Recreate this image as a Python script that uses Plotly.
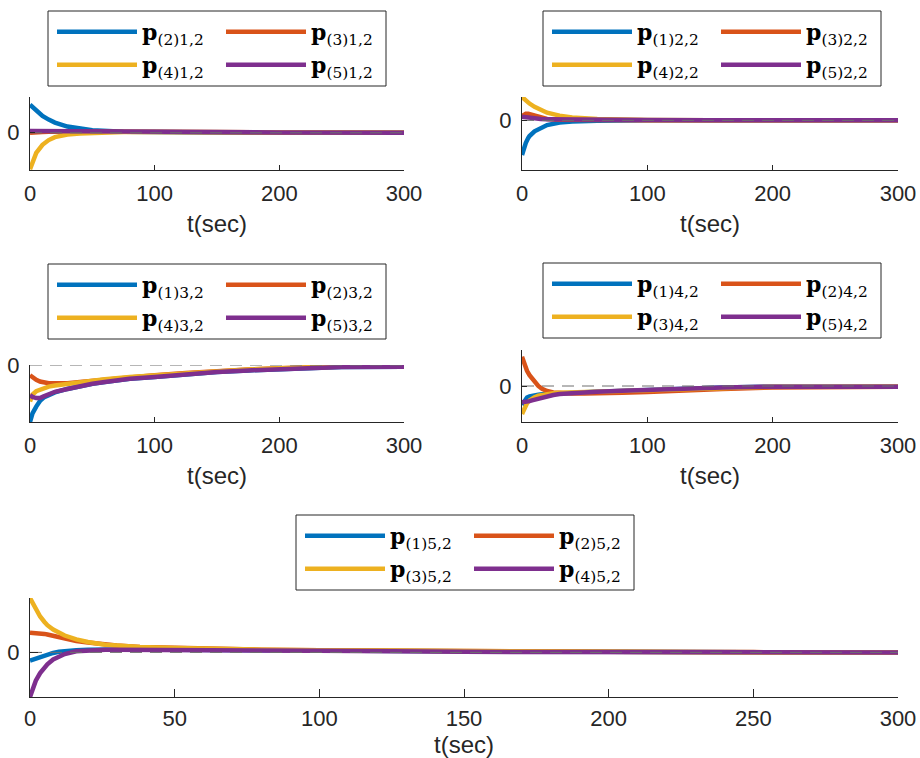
import plotly.graph_objects as go

W, H = 920, 758
COLORS = ['#0072BD', '#D95319', '#EDB120', '#7E2F8E']
AX = '#262626'

# ---------------- data ----------------
T1 = [0, 2, 5, 10, 15, 20, 30, 40, 50, 75, 100, 150, 200, 250, 300]
P1_names = ['<b>p</b><sub>(2)1,2</sub>', '<b>p</b><sub>(3)1,2</sub>',
            '<b>p</b><sub>(4)1,2</sub>', '<b>p</b><sub>(5)1,2</sub>']
P1_s1 = [0.77, 0.70, 0.60, 0.46, 0.36, 0.28, 0.17, 0.11, 0.07, 0.03, 0.015, 0.005, 0.0, 0.0, 0.0]
P1_s2 = [0.0, 0.01, 0.015, 0.02, 0.03, 0.035, 0.04, 0.04, 0.035, 0.03, 0.02, 0.012, 0.008, 0.004, 0.0]
P1_s3 = [-1.0, -0.8, -0.55, -0.33, -0.2, -0.12, -0.05, -0.02, 0.0, 0.02, 0.02, 0.015, 0.01, 0.005, 0.0]
P1_s4 = [0.05, 0.05, 0.045, 0.04, 0.04, 0.04, 0.04, 0.04, 0.035, 0.03, 0.03, 0.02, 0.01, 0.005, 0.0]

T2 = [0, 2, 3, 5, 6, 10, 15, 20, 30, 40, 60, 80, 100, 150, 200, 250, 300]
P2_names = ['<b>p</b><sub>(1)2,2</sub>', '<b>p</b><sub>(3)2,2</sub>',
            '<b>p</b><sub>(4)2,2</sub>', '<b>p</b><sub>(5)2,2</sub>']
P2_s1 = [-0.95, -0.7, -0.62, -0.48, -0.43, -0.3, -0.2, -0.13, -0.06, -0.03, -0.01, 0, 0, 0, 0, 0, 0]
P2_s2 = [0.12, 0.17, 0.18, 0.18, 0.17, 0.12, 0.07, 0.04, 0.02, 0.015, 0.01, 0.005, 0, 0, 0, 0, 0]
P2_s3 = [0.64, 0.57, 0.53, 0.49, 0.46, 0.37, 0.28, 0.21, 0.13, 0.08, 0.04, 0.02, 0.01, 0.0, 0, 0, 0]
P2_s4 = [0.1, 0.09, 0.08, 0.07, 0.06, 0.04, 0.035, 0.03, 0.025, 0.02, 0.02, 0.015, 0.01, 0.005, 0.0, 0.0, 0.0]

T3 = [0, 2, 5, 8, 11, 15, 20, 30, 40, 50, 60, 80, 100, 125, 150, 175, 200, 250, 300]
P3_names = ['<b>p</b><sub>(1)3,2</sub>', '<b>p</b><sub>(2)3,2</sub>',
            '<b>p</b><sub>(4)3,2</sub>', '<b>p</b><sub>(5)3,2</sub>']
P3_s1 = [-1.0, -0.85, -0.73, -0.63, -0.57, -0.52, -0.48, -0.42, -0.37, -0.33, -0.3, -0.24, -0.21, -0.16, -0.125, -0.095, -0.07, -0.035, -0.03]
P3_s2 = [-0.18, -0.22, -0.26, -0.29, -0.31, -0.32, -0.32, -0.32, -0.3, -0.28, -0.26, -0.21, -0.18, -0.14, -0.105, -0.08, -0.055, -0.025, -0.02]
P3_s3 = [-0.64, -0.52, -0.46, -0.43, -0.41, -0.38, -0.36, -0.33, -0.3, -0.27, -0.25, -0.21, -0.18, -0.14, -0.105, -0.08, -0.055, -0.02, 0.0]
P3_s4 = [-0.53, -0.56, -0.58, -0.58, -0.55, -0.51, -0.47, -0.42, -0.37, -0.33, -0.3, -0.24, -0.21, -0.16, -0.125, -0.095, -0.07, -0.035, -0.03]

T4 = [0, 2, 4, 6, 8, 10, 13, 16, 20, 25, 30, 40, 50, 60, 80, 100, 130, 160, 200, 250, 300]
P4_names = ['<b>p</b><sub>(1)4,2</sub>', '<b>p</b><sub>(2)4,2</sub>',
            '<b>p</b><sub>(3)4,2</sub>', '<b>p</b><sub>(5)4,2</sub>']
P4_s1 = [-0.53, -0.4, -0.32, -0.29, -0.27, -0.25, -0.24, -0.23, -0.22, -0.21, -0.2, -0.19, -0.175, -0.16, -0.13, -0.1, -0.07, -0.04, -0.02, -0.02, -0.02]
P4_s2 = [0.81, 0.6, 0.42, 0.3, 0.2, 0.11, 0.0, -0.08, -0.14, -0.18, -0.2, -0.21, -0.21, -0.21, -0.19, -0.17, -0.12, -0.08, -0.04, -0.02, -0.02]
P4_s3 = [-0.78, -0.6, -0.48, -0.4, -0.35, -0.31, -0.27, -0.25, -0.22, -0.2, -0.19, -0.18, -0.17, -0.16, -0.13, -0.1, -0.07, -0.04, -0.02, -0.02, -0.02]
P4_s4 = [-0.45, -0.45, -0.44, -0.42, -0.4, -0.38, -0.34, -0.31, -0.29, -0.25, -0.22, -0.19, -0.175, -0.16, -0.13, -0.1, -0.07, -0.04, -0.02, -0.02, -0.02]

T5 = [0, 1, 2, 3.5, 5, 6, 8, 10, 12, 16, 20, 26, 30, 38, 50, 60, 80, 100, 150, 200, 250, 300]
P5_names = ['<b>p</b><sub>(1)5,2</sub>', '<b>p</b><sub>(2)5,2</sub>',
            '<b>p</b><sub>(3)5,2</sub>', '<b>p</b><sub>(4)5,2</sub>']
P5_s1 = [-0.15, -0.13, -0.11, -0.08, -0.05, -0.035, -0.01, 0.01, 0.025, 0.04, 0.05, 0.06, 0.06, 0.06, 0.05, 0.045, 0.035, 0.03, 0.02, 0.01, 0.0, 0.0]
P5_s2 = [0.36, 0.36, 0.355, 0.35, 0.34, 0.33, 0.305, 0.28, 0.26, 0.21, 0.18, 0.14, 0.125, 0.1, 0.08, 0.07, 0.05, 0.04, 0.02, 0.01, 0.005, 0.0]
P5_s3 = [1.0, 0.89, 0.8, 0.66, 0.56, 0.5, 0.42, 0.36, 0.31, 0.24, 0.19, 0.14, 0.125, 0.1, 0.08, 0.065, 0.05, 0.04, 0.02, 0.01, 0.0, 0.0]
P5_s4 = [-0.82, -0.64, -0.52, -0.38, -0.28, -0.22, -0.13, -0.07, -0.03, 0.02, 0.04, 0.05, 0.05, 0.05, 0.05, 0.045, 0.035, 0.03, 0.01, 0.0, 0.0, 0.0]

ZERO_T = [0, 300]
ZERO_V = [0, 0]
XTICKS_SMALL = [0, 100, 200, 300]
XTICKS_WIDE = [0, 50, 100, 150, 200, 250, 300]

# ---------------- layout config (window pixels) ----------------
panels = [
    dict(t=T1, names=P1_names, s=[P1_s1, P1_s2, P1_s3, P1_s4], yr=[-1.02, 0.98],
         box=(30, 404, 97, 170), leg=(48, 11), xt=XTICKS_SMALL, tl=5, so=(4, 9)),
    dict(t=T2, names=P2_names, s=[P2_s1, P2_s2, P2_s3, P2_s4], yr=[-1.36, 0.64],
         box=(522, 898, 97, 170), leg=(543, 11), xt=XTICKS_SMALL, tl=5, so=(4, 9)),
    dict(t=T3, names=P3_names, s=[P3_s1, P3_s2, P3_s3, P3_s4], yr=[-1.0, 0.0],
         box=(30, 404, 365, 422), leg=(48, 264), xt=XTICKS_SMALL, tl=5, so=(4, 9)),
    dict(t=T4, names=P4_names, s=[P4_s1, P4_s2, P4_s3, P4_s4], yr=[-1.0, 1.0],
         box=(522, 898, 350, 422), leg=(543, 263), xt=XTICKS_SMALL, tl=5, so=(4, 9)),
    dict(t=T5, names=P5_names, s=[P5_s1, P5_s2, P5_s3, P5_s4], yr=[-0.82, 1.0],
         box=(30, 898, 598, 697), leg=(296, 515), xt=XTICKS_WIDE, tl=8, so=(2, 5)),
]

LEG_W, LEG_H = 338, 75
LEG_COL = [9, 178]
LEG_ROW = [21, 54]
LEG_XOFF = 5  # plotly internal offset from legend edge to symbol start


def px(x):
    return x / W


def py(y):
    return 1 - y / H


fig = go.Figure()
layout = dict(width=W, height=H, margin=dict(l=0, r=0, t=0, b=0, autoexpand=False),
              paper_bgcolor='white', plot_bgcolor='white', shapes=[],
              hovermode=False)

legend_count = 0
for i, P in enumerate(panels):
    xa = 'x' if i == 0 else f'x{i + 1}'
    ya = 'y' if i == 0 else f'y{i + 1}'
    l, r, top, bot = P['box']
    for j, (name, vals) in enumerate(zip(P['names'], P['s'])):
        legend_count += 1
        lname = 'legend' if legend_count == 1 else f'legend{legend_count}'
        fig.add_trace(go.Scatter(
            x=P['t'], y=vals, mode='lines', name=name,
            line=dict(color=COLORS[j], width=4.5),
            xaxis=xa, yaxis=ya, legend=lname))
        lx = P['leg'][0] + LEG_COL[j % 2] - LEG_XOFF
        ly = P['leg'][1] + LEG_ROW[j // 2]
        layout[lname] = dict(
            x=px(lx), y=py(ly), xanchor='left', yanchor='middle',
            bgcolor='rgba(0,0,0,0)', borderwidth=0, itemwidth=80,
            font=dict(family='DejaVu Serif', size=22, color='black'),
            itemclick=False, itemdoubleclick=False)
    fig.add_trace(go.Scatter(
        x=ZERO_T, y=ZERO_V, mode='lines', showlegend=False,
        line=dict(color='#6e6e6e', width=1, dash='12px,8px'),
        xaxis=xa, yaxis=ya, hoverinfo='skip'))

    xkey = 'xaxis' if i == 0 else f'xaxis{i + 1}'
    ykey = 'yaxis' if i == 0 else f'yaxis{i + 1}'
    layout[xkey] = dict(
        domain=[px(l), px(r)], range=[0, 300], anchor=ya, automargin=False,
        showline=True, linecolor=AX, linewidth=1, mirror=False,
        ticks='inside', ticklen=P['tl'], tickcolor=AX, tickwidth=1,
        tickvals=P['xt'], showgrid=False, zeroline=False,
        tickfont=dict(family='Liberation Sans', size=22, color=AX),
        ticklabelstandoff=P['so'][0], ticklabeloverflow='allow',
        title=dict(text='t(sec)', standoff=P['so'][1],
                   font=dict(family='Liberation Sans', size=24, color=AX)))
    layout[ykey] = dict(
        domain=[py(bot), py(top)], range=P['yr'], anchor=xa, automargin=False,
        showline=True, linecolor=AX, linewidth=1, mirror=False,
        ticks='inside', ticklen=P['tl'], tickcolor=AX, tickwidth=1,
        tickvals=[0], ticktext=['0'], showgrid=False, zeroline=False,
        ticklabelstandoff=5, ticklabeloverflow='allow',
        tickfont=dict(family='Liberation Sans', size=22, color=AX))

    bx, by = P['leg']
    layout['shapes'].append(dict(
        type='rect', xref='paper', yref='paper',
        x0=px(bx), x1=px(bx + LEG_W), y0=py(by + LEG_H), y1=py(by),
        line=dict(color=AX, width=1), fillcolor='white', layer='below'))

fig.update_layout(**layout)
fig.write_html('out.html',
               config={'displayModeBar': False},
               post_script="document.body.style.margin='0';"
                           "document.body.style.overflow='hidden';")
